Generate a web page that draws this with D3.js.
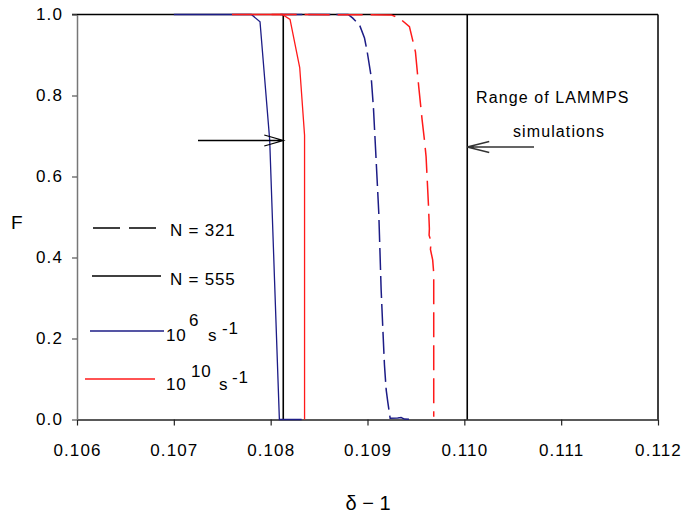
<!DOCTYPE html>
<html>
<head>
<meta charset="utf-8">
<script src="https://cdn.jsdelivr.net/npm/d3@7"></script>
<style>
body { margin: 0; background: white; }
text { font-family: "Liberation Sans", Arial, sans-serif; }
</style>
</head>
<body>
<div id="chart"></div>
<script>
// tick values
var xTicks = [0.106, 0.107, 0.108, 0.109, 0.110, 0.111, 0.112];
var yTicks = [0, 0.2, 0.4, 0.6, 0.8, 1.0];

// N = 555 (solid)
var blue555 = [[0.1070, 1], [0.10780, 1], [0.10789, 0.982], [0.10799, 0.690], [0.10804, 0.344], [0.10809, 0], [0.10832, 0]];
var red555 = [[0.10760, 1], [0.10812, 1], [0.10820, 0.988], [0.10830, 0.869], [0.10835, 0.702], [0.10835, 0]];

// N = 321 (dashed)
var blue321 = [[0.10810, 1], [0.10880, 1], [0.108848, 0.991], [0.108918, 0.974], [0.108969, 0.942], [0.108997, 0.908],
    [0.109038, 0.846], [0.109062, 0.767], [0.109082, 0.674], [0.109116, 0.513], [0.109141, 0.320], [0.109158, 0.226],
    [0.109175, 0.135], [0.109193, 0.073], [0.109209, 0.044], [0.109234, 0.003], [0.109312, 0.004], [0.109347, 0.005],
    [0.109381, 0.001], [0.109485, 0]];
var red321 = [[0.10801, 1], [0.109244, 0.999], [0.109330, 0.991], [0.109433, 0.970], [0.109495, 0.908], [0.109529, 0.822],
    [0.109564, 0.740], [0.109588, 0.690], [0.109605, 0.649], [0.109629, 0.532], [0.109639, 0.471], [0.109636, 0.455],
    [0.109657, 0.439], [0.109650, 0.420], [0.109673, 0.394], [0.109684, 0.361], [0.109684, 0.007]];

// range of LAMMPS simulations
var rangeLines = [0.10813, 0.11003];

var svgWidth = 682, svgHeight = 515;

var svg = d3.select('#chart').append('svg')
    .attr('width', svgWidth)
    .attr('height', svgHeight)
    .style('background', 'white');

var x = d3.scaleLinear().domain([0.106, 0.112]).range([77, 658]);
var y = d3.scaleLinear().domain([0, 1]).range([419.5, 14.5]);

// frame top and right
svg.append('line')
    .attr('x1', 72).attr('y1', y(1))
    .attr('x2', x(0.112)).attr('y2', y(1))
    .attr('stroke', 'black').attr('stroke-width', 1.5);
svg.append('line')
    .attr('x1', x(0.112)).attr('y1', y(1))
    .attr('x2', x(0.112)).attr('y2', y(0))
    .attr('stroke', 'black').attr('stroke-width', 1.5);

// x axis
var xAxis = svg.append('g')
    .attr('transform', 'translate(0,' + y(0) + ')')
    .call(d3.axisBottom(x).tickValues(xTicks).tickFormat(d3.format('.3f')).tickSize(6).tickSizeOuter(0));
xAxis.select('.domain').attr('stroke', '#222').attr('stroke-width', 1.5);
xAxis.selectAll('.tick line').attr('stroke', '#222').attr('stroke-width', 1.2);
xAxis.selectAll('text')
    .attr('font-size', '17px').attr('fill', 'black')
    .attr('letter-spacing', '1.1px')
    .attr('dy', '1.6em')
    .style('font-family', '"Liberation Sans", Arial, sans-serif');

// y axis
var yAxis = svg.append('g')
    .attr('transform', 'translate(' + x(0.106) + ',0)')
    .call(d3.axisLeft(y).tickValues(yTicks).tickFormat(d3.format('.1f')).tickSize(5).tickSizeOuter(0));
yAxis.select('.domain').attr('stroke', '#777').attr('stroke-width', 1.5);
yAxis.selectAll('.tick line').attr('stroke', '#555').attr('stroke-width', 1.2);
yAxis.selectAll('text')
    .attr('font-size', '17px').attr('fill', 'black')
    .attr('letter-spacing', '1.1px')
    .attr('x', -14)
    .style('font-family', '"Liberation Sans", Arial, sans-serif');

// range lines
svg.selectAll('.rangeLine').data(rangeLines).enter().append('line')
    .attr('class', 'rangeLine')
    .attr('x1', function(d) { return x(d); }).attr('y1', y(1))
    .attr('x2', function(d) { return x(d); }).attr('y2', y(0))
    .attr('stroke', 'black').attr('stroke-width', 1.6);

var line = d3.line()
    .x(function(d) { return x(d[0]); })
    .y(function(d) { return y(d[1]); });

var blue = '#1c1c86', red = '#ff1a1a';

//draw curves
svg.append('path').datum(blue321).attr('d', line)
    .attr('fill', 'none').attr('stroke', blue).attr('stroke-width', 1.5).attr('stroke-dasharray', '22,6');
svg.append('path').datum(red321).attr('d', line)
    .attr('fill', 'none').attr('stroke', red).attr('stroke-width', 1.5).attr('stroke-dasharray', '25,8');
svg.append('path').datum(blue555).attr('d', line)
    .attr('fill', 'none').attr('stroke', blue).attr('stroke-width', 1.3);
svg.append('path').datum(red555).attr('d', line)
    .attr('fill', 'none').attr('stroke', red).attr('stroke-width', 1.3);

//legend lines
svg.append('line').attr('x1', 93).attr('y1', 228).attr('x2', 158).attr('y2', 228)
    .attr('stroke', 'black').attr('stroke-width', 1.3).attr('stroke-dasharray', '27,9');
svg.append('line').attr('x1', 92).attr('y1', 276).attr('x2', 161).attr('y2', 276)
    .attr('stroke', 'black').attr('stroke-width', 1.3);
svg.append('line').attr('x1', 90).attr('y1', 331).attr('x2', 164).attr('y2', 331)
    .attr('stroke', blue).attr('stroke-width', 1.3);
svg.append('line').attr('x1', 85).attr('y1', 379).attr('x2', 155).attr('y2', 379)
    .attr('stroke', red).attr('stroke-width', 1.3);

function label(txt, lx, ly, size, sp) {
    svg.append('text').text(txt)
        .attr('x', lx).attr('y', ly)
        .attr('font-size', size + 'px')
        .attr('letter-spacing', sp + 'px')
        .attr('fill', 'black');
}

label('N = 321', 170, 236, 17, 0.8);
label('N = 555', 170, 285, 17, 0.8);
label('10', 166, 341, 17, 0.8);
label('6', 189, 326, 17, 0);
label('s', 208, 341, 17, 0);
label('-1', 222, 334, 17, 0.8);
label('10', 166, 390, 17, 0.8);
label('10', 191, 377, 17, 0.8);
label('s', 219, 390, 17, 0);
label('-1', 232, 383, 17, 0.8);

// annotation
label('Range of LAMMPS', 476, 103, 16, 1.1);
label('simulations', 513, 137, 16, 1.1);

//arrows
var a1 = x(rangeLines[0]), a2 = x(rangeLines[1]);
svg.append('path')
    .attr('d', 'M198,140.5 L' + a1 + ',140.5 M' + (a1 - 19) + ',135 L' + a1 + ',140.5 L' + (a1 - 19) + ',146')
    .attr('fill', 'none').attr('stroke', 'black').attr('stroke-width', 1.3);
svg.append('path')
    .attr('d', 'M534,147 L' + a2 + ',147 M' + (a2 + 22) + ',141.5 L' + a2 + ',147 L' + (a2 + 22) + ',152.5')
    .attr('fill', 'none').attr('stroke', '#333').attr('stroke-width', 1.3);

// axis titles
svg.append('text').text('F')
    .attr('x', 11).attr('y', 229)
    .attr('font-size', '19px').attr('fill', 'black');
svg.append('text').text('δ − 1')
    .attr('x', 368).attr('y', 510)
    .attr('text-anchor', 'middle')
    .attr('font-size', '20px').attr('fill', 'black');
</script>
</body>
</html>
